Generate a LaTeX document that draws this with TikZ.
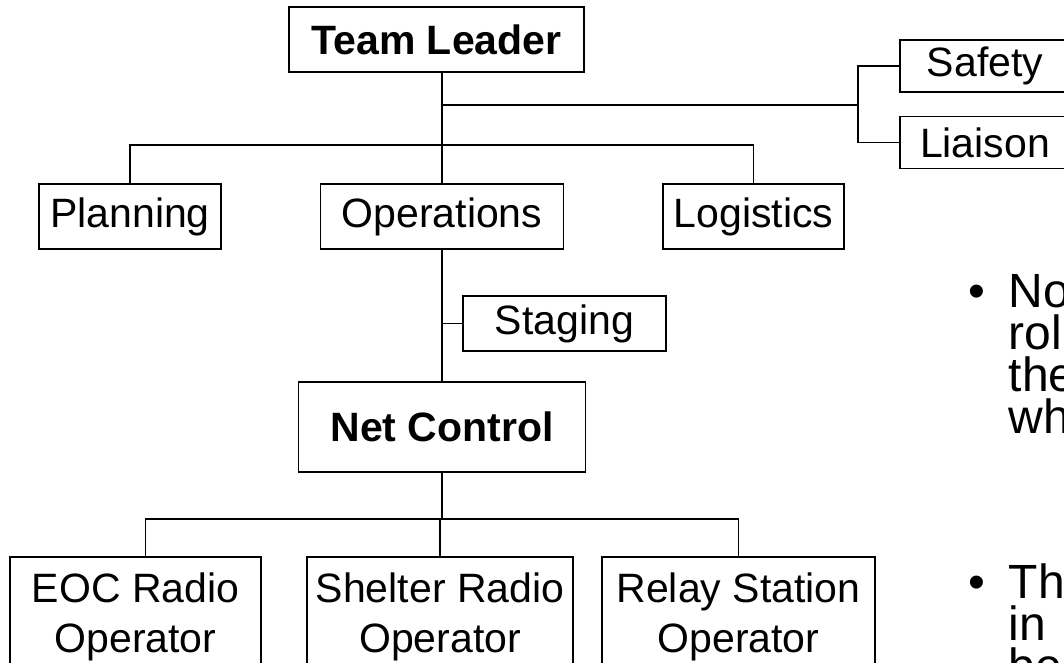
\documentclass[tikz,border=0pt]{standalone}
\usepackage{fontspec}
\setmainfont{Liberation Sans}

\newcommand\orgfont{\fontsize{30.75}{38}\selectfont}
\newcommand\notefont{\fontsize{36}{42}\selectfont}

\tikzset{orgbox/.style = {draw, rectangle, line width=1.3pt, inner sep=0pt,
                          minimum width = #1, minimum height = 48.75pt,
                          align = center, font = \orgfont},
         orgbox/.default=136.5pt,
         bossbox/.style = {orgbox=#1, font = \orgfont\bfseries},
         sidebox/.style = {orgbox=#1, minimum height = 39pt},
         crewbox/.style = {orgbox=#1, minimum height = 90pt},
         note/.style = {anchor = base west, inner sep = 0pt, font = \notefont}
        }

\begin{document}
\begin{tikzpicture}[x=0.75pt, y=-0.75pt, line width=1.3pt]
  \useasboundingbox (0,0) rectangle (1064,662);
  \clip (0,0) rectangle (1064,662);

  % chart
  \node[bossbox=221.25pt] (lead) at (436.5,39.5) {Team Leader};
  \node[orgbox] (plan) at (130,216.5) {Planning};
  \node[orgbox=182.25pt] (ops) at (442,216.5) {Operations};
  \node[orgbox=135.75pt] (logi) at (753.5,216.5) {Logistics};
  \node[sidebox=127.5pt] (safe) at (985,66) {Safety};
  \node[sidebox=127.5pt] (liai) at (985,142.5) {Liaison};
  \node[orgbox=152.25pt, minimum height=41.25pt] (stag) at (564.5,323.5) {Staging};
  \node[bossbox=215.25pt, minimum height=67.5pt] (net) at (442,427) {Net Control};
  \node[crewbox=188.25pt] (eoc) at (135.5,617) {EOC Radio\\Operator};
  \node[crewbox=199.5pt] (shel) at (440,617) {Shelter Radio\\Operator};
  \node[crewbox=204.75pt] (relay) at (738.5,617) {Relay Station\\Operator};

  \coordinate (split) at (442,145);
  \coordinate (side) at (858,105);
  \coordinate (fork) at (442,519);

  \draw (ops.north |- lead.south) -- (ops.north);
  \draw (plan.north) |- (split) -| (logi.north);
  \draw (ops.north |- side) -- (side);
  \draw (safe.west) -| (side) |- (liai.west);
  \draw (ops.south) -- (net.north);
  \draw (stag.west) -- (stag.west -| ops.south);
  \draw (net.south) -- (fork);
  \draw ([xshift=7.5pt]eoc.north) |- (fork) -| (relay.north);
  \draw (shel.north) -- (shel.north |- fork);

  % notes
  \node[note] (dot1) at (968,307) {•};
  \node[note] (dot2) at (968,598) {•};
  \foreach \txt/\y in {No/307, rol/349, the/391, wh/433, Th/598, in/640, be/682}
    \node[note] (tx\y) at (1008,\y) {\txt};
\end{tikzpicture}
\end{document}
